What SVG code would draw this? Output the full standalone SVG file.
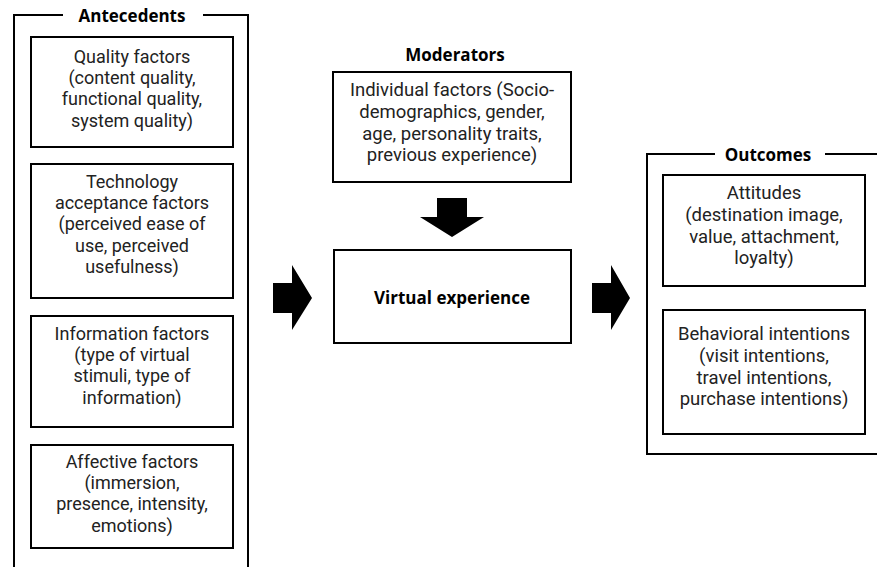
<svg xmlns="http://www.w3.org/2000/svg" width="877" height="567" viewBox="0 0 877 567">
<style>
.box{fill:#fff;stroke:#000;stroke-width:2}
.frame{fill:none;stroke:#000;stroke-width:2}
.t{font-family:Roboto,"Open Sans",sans-serif;font-size:18px;fill:#222;text-anchor:middle}
.t2{font-family:Roboto,"Open Sans",sans-serif;font-size:18.5px;fill:#222;text-anchor:middle}
.b{font-family:"Open Sans","Noto Sans",sans-serif;font-size:17px;font-weight:bold;fill:#000;text-anchor:middle}
.arr{fill:#000}
</style>
<rect width="877" height="567" fill="#fff"/>
<g id="antecedents">
<path class="frame" d="M63 15 H14 V567 M203 15 H248 V567"/>
<text class="b" x="132" y="22">Antecedents</text>
</g>
<g id="quality">
<rect class="box" x="31" y="37" width="202" height="110"/>
<text class="t" x="132" y="63">Quality factors<tspan x="132" dy="21.2">(content quality,</tspan><tspan x="132" dy="21.2">functional quality,</tspan><tspan x="132" dy="21.2">system quality)</tspan></text>
</g>
<g id="technology">
<rect class="box" x="31" y="164" width="202" height="134"/>
<text class="t" x="132" y="188">Technology<tspan x="132" dy="21.2">acceptance factors</tspan><tspan x="132" dy="21.2">(perceived ease of</tspan><tspan x="132" dy="21.2">use, perceived</tspan><tspan x="132" dy="21.2">usefulness)</tspan></text>
</g>
<g id="information">
<rect class="box" x="31" y="316" width="202" height="111"/>
<text class="t" x="132" y="340">Information factors<tspan x="132" dy="21.2">(type of virtual</tspan><tspan x="132" dy="21.2">stimuli, type of</tspan><tspan x="132" dy="21.2">information)</tspan></text>
</g>
<g id="affective">
<rect class="box" x="31" y="445" width="202" height="103"/>
<text class="t" x="132" y="468">Affective factors<tspan x="132" dy="21.2">(immersion,</tspan><tspan x="132" dy="21.2">presence, intensity,</tspan><tspan x="132" dy="21.2">emotions)</tspan></text>
</g>
<g id="moderators">
<text class="b" x="455" y="61">Moderators</text>
<rect class="box" x="333" y="72" width="238" height="110"/>
<text class="t2" x="452" y="96">Individual factors (Socio-<tspan x="452" dy="21.8">demographics, gender,</tspan><tspan x="452" dy="21.8">age, personality traits,</tspan><tspan x="452" dy="21.8">previous experience)</tspan></text>
</g>
<g id="virtual">
<rect class="box" x="334" y="250" width="237" height="93"/>
<text class="b" x="452" y="304">Virtual experience</text>
</g>
<g id="outcomes">
<path class="frame" d="M715 154 H647 V454 H877 M825 154 H877"/>
<text class="b" x="768" y="161">Outcomes</text>
</g>
<g id="attitudes">
<rect class="box" x="663" y="175" width="202" height="111"/>
<text class="t2" x="764" y="199">Attitudes<tspan x="764" dy="21.8">(destination image,</tspan><tspan x="764" dy="21.8">value, attachment,</tspan><tspan x="764" dy="21.8">loyalty)</tspan></text>
</g>
<g id="behavioral">
<rect class="box" x="663" y="310" width="202" height="124"/>
<text class="t2" x="764" y="340">Behavioral intentions<tspan x="764" dy="21.8">(visit intentions,</tspan><tspan x="764" dy="21.8">travel intentions,</tspan><tspan x="764" dy="21.8">purchase intentions)</tspan></text>
</g>
<g id="connectors">
<polygon class="arr" points="437,198 467,198 467,217 484,217 452,237 420,217 437,217"/>
<polygon class="arr" points="273,283 292,283 292,265 312,298 292,330 292,313 273,313"/>
<polygon class="arr" points="592,283 611,283 611,265 630,298 611,330 611,313 592,313"/>
</g>
</svg>
